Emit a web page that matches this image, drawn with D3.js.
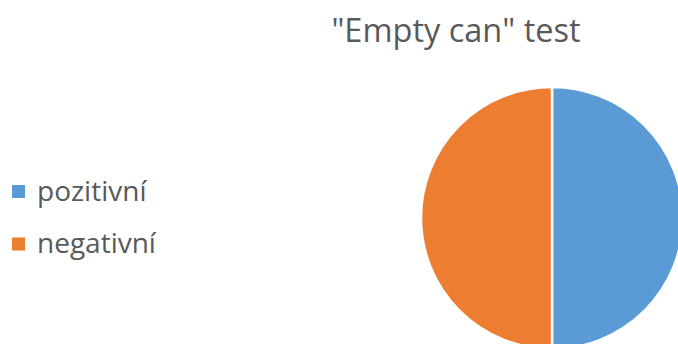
<!DOCTYPE html>
<html>
<head>
<meta charset="utf-8">
<script src="https://cdn.jsdelivr.net/npm/d3@7"></script>
<style>
  body { margin: 0; background: #fff; }
  svg { display: block; font-family: "Open Sans", sans-serif; }
</style>
</head>
<body>
<svg id="chart" width="678" height="344"></svg>
<script>
const categories = ["pozitivní", "negativní"];
const values = [50, 50];
const colors = ["#5B9BD5", "#ED7D31"];
const title = "\"Empty can\" test";

const svg = d3.select("#chart");

svg.append("text")
  .attr("x", 456)
  .attr("y", 42)
  .attr("text-anchor", "middle")
  .attr("fill", "#595959")
  .style("font-size", "32.5px")
  .text(title);

const data = categories.map((c, i) => ({ name: c, value: values[i] }));

const color = d3.scaleOrdinal().domain(categories).range(colors);

const pie = d3.pie().value(d => d.value).sort(null);
const radius = 131;
const arc = d3.arc().innerRadius(0).outerRadius(radius);

const pieGroup = svg.append("g").attr("transform", "translate(552,218)");

pieGroup.selectAll("path")
  .data(pie(data))
  .enter()
  .append("path")
  .attr("d", arc)
  .attr("fill", d => color(d.data.name))
  .attr("stroke", "#fff")
  .attr("stroke-width", 2.5);

// legend
const legendY = d3.scalePoint().domain(categories).range([191.5, 244]);

const legend = svg.append("g")
  .selectAll("g")
  .data(categories)
  .enter()
  .append("g")
  .attr("transform", d => "translate(12," + legendY(d) + ")");

legend.append("rect")
  .attr("x", 0)
  .attr("y", -6.5)
  .attr("width", 13)
  .attr("height", 13)
  .attr("fill", d => color(d));

legend.append("text")
  .attr("x", 25)
  .attr("y", 9)
  .attr("fill", "#595959")
  .style("font-size", "28px")
  .text(d => d);
</script>
</body>
</html>
